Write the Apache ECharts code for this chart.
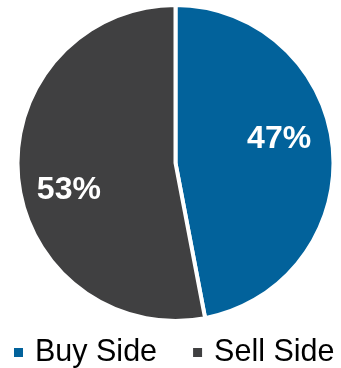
<!DOCTYPE html>
<html>
<head>
<meta charset="utf-8">
<style>
  html, body { margin: 0; padding: 0; background: #ffffff; }
  #chart { width: 341px; height: 368px; }
</style>
<script src="https://cdn.jsdelivr.net/npm/echarts@6/dist/echarts.min.js"></script>
</head>
<body>
<div id="chart"></div>
<script>
// Share of activity by side of the trade
const categories = ['Buy Side', 'Sell Side'];
const shares = [47, 53];
const colors = ['#02629B', '#404041'];
// Nudges for the percentage labels, relative to the slice centre
const labelShift = [[22, -16], [-25, 19]];

const chart = echarts.init(document.getElementById('chart'), null, { renderer: 'canvas' });

chart.setOption({
  animation: false,
  backgroundColor: '#ffffff',
  legend: {
    data: categories,
    left: 12,
    top: 337,
    width: 400,
    padding: 0,
    icon: 'rect',
    itemWidth: 11,
    itemHeight: 11,
    itemGap: 34,
    textStyle: {
      fontFamily: 'Liberation Sans, Arial, sans-serif',
      fontSize: 30.5,
      color: '#000000',
      lineHeight: 31,
      padding: [0, 0, 0, 6]
    }
  },
  series: [{
    type: 'pie',
    center: [175.5, 163],
    radius: [0, 158],
    startAngle: 90,
    clockwise: true,
    silent: true,
    itemStyle: { borderColor: '#ffffff', borderWidth: 4 },
    label: {
      show: true,
      position: 'inside',
      formatter: '{c}%',
      color: '#ffffff',
      fontFamily: 'Liberation Sans, Arial, sans-serif',
      fontWeight: 'bold',
      fontSize: 32
    },
    labelLine: { show: false },
    labelLayout: function (params) {
      const s = labelShift[params.dataIndex];
      return { dx: s[0], dy: s[1] };
    },
    data: categories.map(function (name, i) {
      return { name: name, value: shares[i], itemStyle: { color: colors[i] } };
    })
  }]
});
</script>
</body>
</html>
